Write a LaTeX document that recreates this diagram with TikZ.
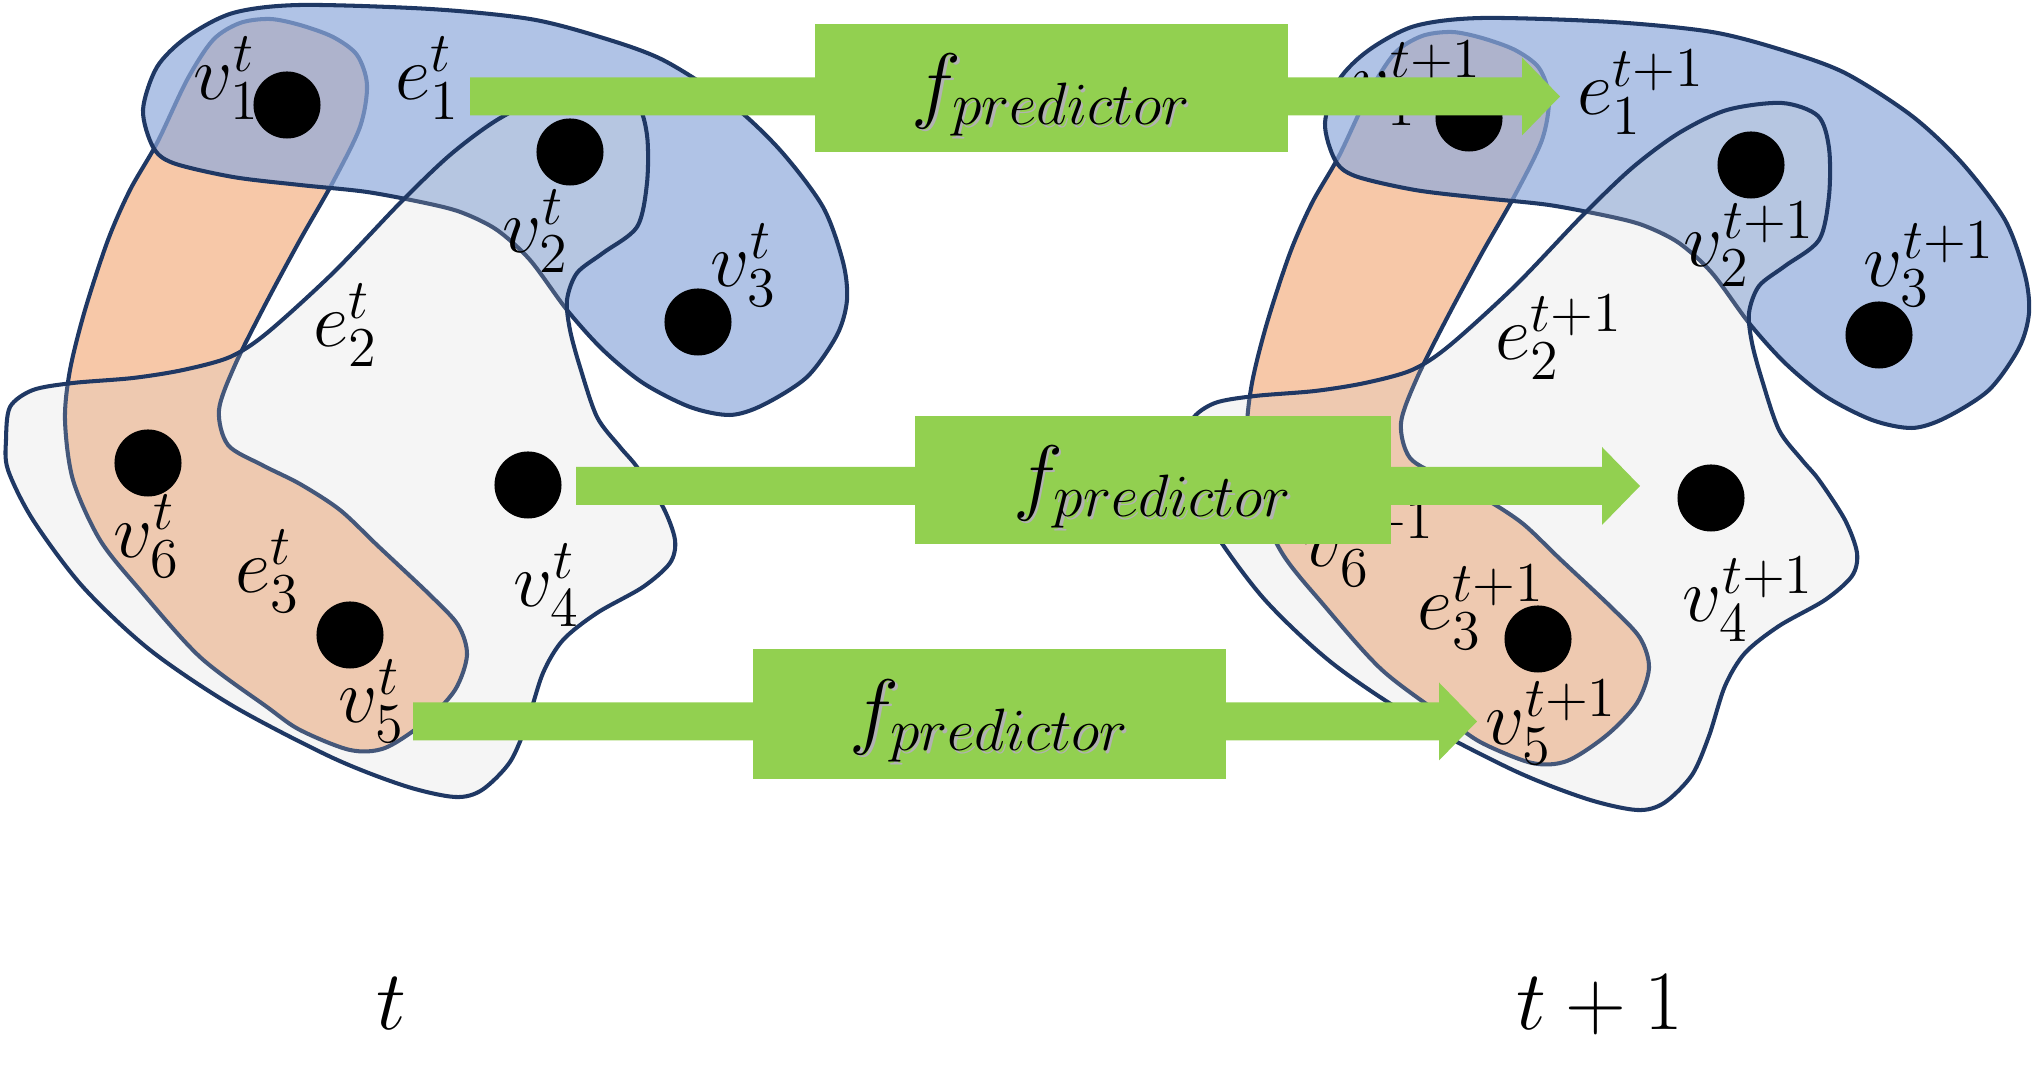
\RequirePackage{fix-cm}
\documentclass[tikz,border=0pt]{standalone}
\usetikzlibrary{calc}
\DeclareMathSizes{22}{22}{16}{12}
\DeclareMathSizes{24}{24}{17}{12}
\definecolor{navy}{HTML}{1F3864}
\definecolor{hblue}{HTML}{8FAADC}
\definecolor{horange}{HTML}{F4B183}
\definecolor{hgray}{HTML}{CFCFCF}
\definecolor{pgreen}{HTML}{92D050}
\tikzset{
 edgeshape/.style={draw=navy, line width=1.15pt, line join=round},
 blueedge/.style={edgeshape, fill=hblue, fill opacity=0.7},
 orangeedge/.style={edgeshape, fill=horange, fill opacity=0.7},
 grayedge/.style={edgeshape, fill=hgray, fill opacity=0.21},
 vdot/.style={circle, fill=black, inner sep=0pt, minimum size=0.67cm},
 lab/.style={anchor=base west, inner sep=0pt, font=\fontsize{22}{26}\selectfont},
 biglab/.style={anchor=base west, inner sep=0pt, font=\fontsize{24}{28}\selectfont},
 predbox/.style={fill=pgreen, inner sep=0pt, minimum height=1.28cm, minimum width=4.74cm},
 predtext/.style={inner sep=0pt, font=\fontsize{24}{28}\selectfont, yshift=-0.07cm},
 predshadow/.style={predtext, text=black!30, xshift=0.025cm, yshift=-0.025cm},
}
\newcommand\fatarrow[2]{\fill[pgreen] ($(#1)+(0,-19)$) -- ($(#2)+(-38,-19)$) -- ($(#2)+(-38,-39)$) -- (#2) -- ($(#2)+(-38,39)$) -- ($(#2)+(-38,19)$) -- ($(#1)+(0,19)$) -- cycle;}
\begin{document}
\begin{tikzpicture}[x=0.01cm, y=-0.01cm]
\useasboundingbox (0,0) rectangle (2035,1077);
\foreach \sx/\sy in {0/0, 1182/13} {
\begin{scope}[shift={(\sx,\sy)}]
% e3 (orange)
\path[orangeedge] plot[smooth cycle] coordinates {
(157,143) (187,80) (213,40) (240,23) (270,19) (300,25) (333,37) (357,55) (367,85) (360,127)
(333,182) (300,240) (265,305) (235,365) (219,410) (228,445) (262,465) (300,484) (340,510)
(378,546) (430,595) (458,625) (467,655) (455,690) (425,722) (385,748) (350,750) (300,730)
(267,707) (200,657) (140,590) (100,540) (73,480) (65,420) (70,370) (85,310) (108,240) (130,190)};
% e1 (blue)
\path[blueedge] plot[smooth cycle] coordinates {
(143,110) (157,67) (187,37) (233,13) (300,5) (430,9) (530,19) (600,37) (663,60) (730,103)
(780,150) (823,207) (843,262) (847,300) (837,335) (807,377) (763,405) (730,415) (690,407)
(643,383) (603,350) (567,310) (530,260) (497,230) (463,213) (430,204) (367,192) (300,185)
(233,177) (173,163) (153,147)};
% e2 (gray)
\path[grayedge] plot[smooth cycle] coordinates {
(6,440) (10,407) (33,390) (73,383) (133,378) (183,370) (230,357) (267,333) (333,273) (400,203)
(450,155) (497,120) (545,97) (600,90) (636,103) (647,135) (647,183) (637,227) (603,253)
(577,273) (567,300) (570,330) (580,367) (597,417) (620,447) (637,467) (663,507) (675,540)
(670,563) (643,587) (597,613) (563,640) (543,673) (527,723) (510,762) (482,790) (455,797)
(405,786) (333,758) (233,706) (150,650) (83,587) (33,520) (8,470)};
\end{scope}
}
% vertices at t
\node[vdot] (L1) at (287,105) {};
\node[vdot] (L2) at (570,152) {};
\node[vdot] (L3) at (698,322) {};
\node[vdot] (L4) at (528,485) {};
\node[vdot] (L5) at (350,635) {};
\node[vdot] (L6) at (148,463) {};
% vertices at t+1
\node[vdot] (R1) at (1469,118) {};
\node[vdot] (R2) at (1751,165) {};
\node[vdot] (R3) at (1879,335) {};
\node[vdot] (R4) at (1711,498) {};
\node[vdot] (R5) at (1538,639) {};
\node[vdot] (R6) at (1331,475) {};
% labels at t
\node[lab] (lv1) at (193,100) {$v_1^t$};
\node[lab] (le1) at (395,100) {$e_1^t$};
\node[lab] (lv2) at (502,253) {$v_2^t$};
\node[lab] (lv3) at (710,287) {$v_3^t$};
\node[lab] (le2) at (313,347) {$e_2^t$};
\node[lab] (lv4) at (513,607) {$v_4^t$};
\node[lab] (lv5) at (338,723) {$v_5^t$};
\node[lab] (lv6) at (113,558) {$v_6^t$};
\node[lab] (le3) at (235,593) {$e_3^t$};
% labels at t+1
\node[lab] (rv1) at (1350,106) {$v_1^{t+1}$};
\node[lab] (re1) at (1577,115) {$e_1^{t+1}$};
\node[lab] (rv2) at (1683,267) {$v_2^{t+1}$};
\node[lab] (rv3) at (1863,287) {$v_3^{t+1}$};
\node[lab] (re2) at (1495,360) {$e_2^{t+1}$};
\node[lab] (rv4) at (1682,622) {$v_4^{t+1}$};
\node[lab] (rv5) at (1485,745) {$v_5^{t+1}$};
\node[lab] (rv6) at (1303,567) {$v_6^{t+1}$};
\node[lab] (re3) at (1417,630) {$e_3^{t+1}$};
% time labels
\node[biglab] (tl) at (376,1030) {$t$};
\node[biglab] (tr) at (1516,1030) {$t+1$};
% predictor arrows
\coordinate (a1s) at (470,96.5);
\coordinate (a1e) at (1560,96.5);
\coordinate (a2s) at (576,486);
\coordinate (a2e) at (1640,486);
\coordinate (a3s) at (413,721.5);
\coordinate (a3e) at (1477,721.5);
\fatarrow{a1s}{a1e}
\fatarrow{a2s}{a2e}
\fatarrow{a3s}{a3e}
\node[predbox, minimum width=4.73cm] (p1) at (1051.5,88) {};
\node[predbox, minimum width=4.76cm] (p2) at (1153,480) {};
\node[predbox, minimum width=4.73cm, minimum height=1.30cm] (p3) at (989.5,714) {};
\node[predshadow] (p1s) at (p1) {$f_{predictor}$};
\node[predtext] (p1t) at (p1) {$f_{predictor}$};
\node[predshadow] (p2s) at (p2) {$f_{predictor}$};
\node[predtext] (p2t) at (p2) {$f_{predictor}$};
\node[predshadow] (p3s) at (p3) {$f_{predictor}$};
\node[predtext] (p3t) at (p3) {$f_{predictor}$};
\end{tikzpicture}
\end{document}
